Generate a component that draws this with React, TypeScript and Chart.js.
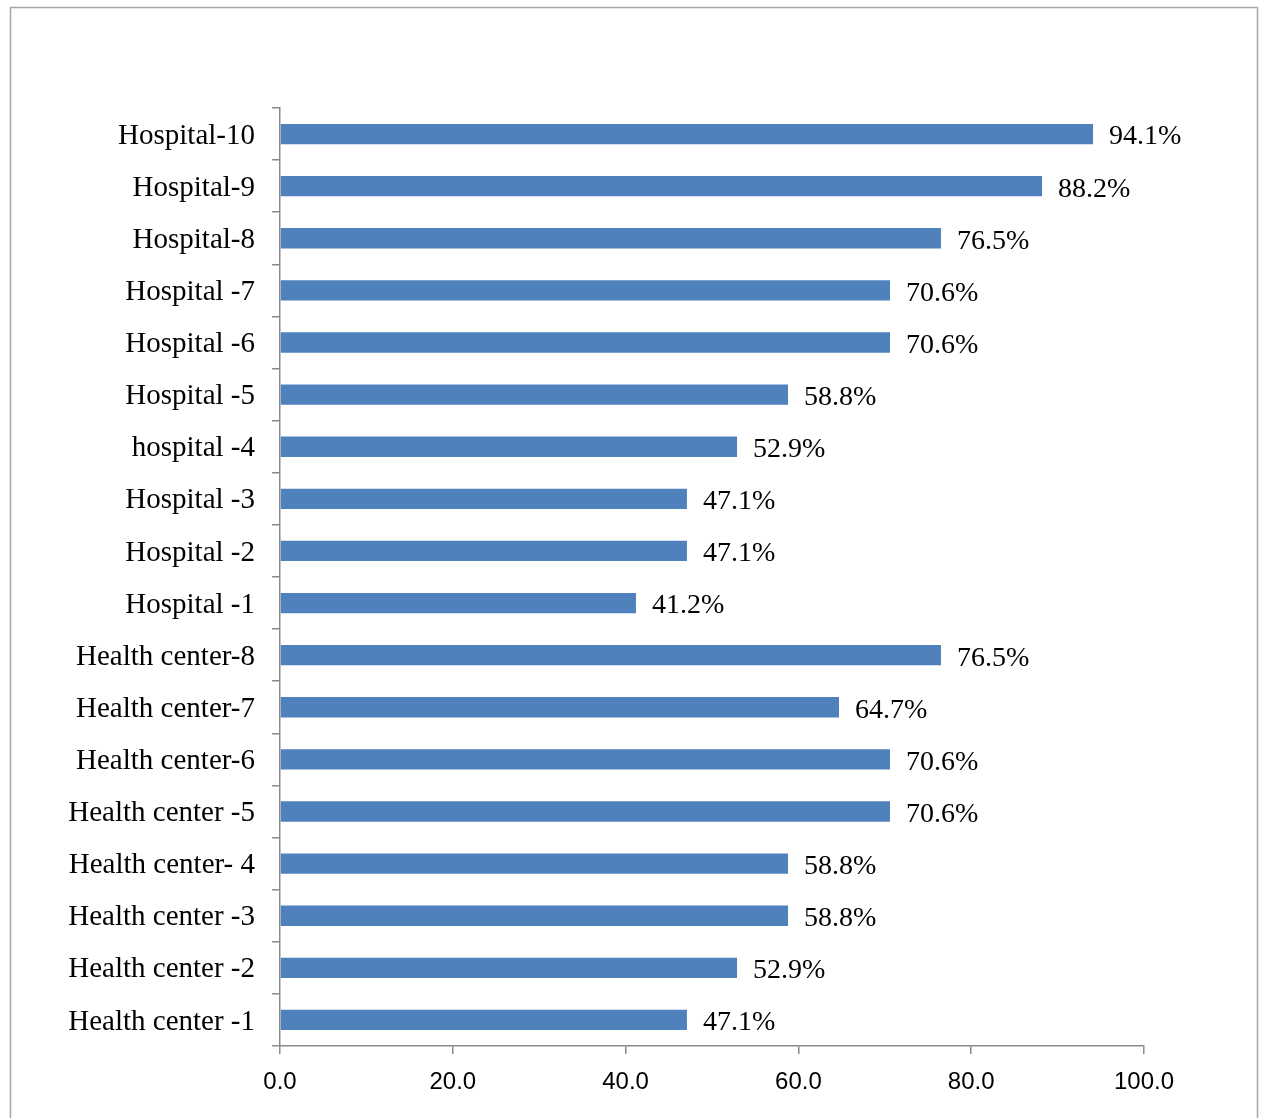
import React, { useEffect, useRef } from "react";
import { Chart, registerables } from "chart.js";

Chart.register(...registerables);

const facilities = [
  "Hospital-10",
  "Hospital-9",
  "Hospital-8",
  "Hospital -7",
  "Hospital -6",
  "Hospital -5",
  "hospital -4",
  "Hospital -3",
  "Hospital -2",
  "Hospital -1",
  "Health center-8",
  "Health center-7",
  "Health center-6",
  "Health center -5",
  "Health center- 4",
  "Health center -3",
  "Health center -2",
  "Health center -1",
];

const percentages = [
  94.1, 88.2, 76.5, 70.6, 70.6, 58.8, 52.9, 47.1, 47.1, 41.2, 76.5, 64.7, 70.6,
  70.6, 58.8, 58.8, 52.9, 47.1,
];

const xTickValues = [0, 20, 40, 60, 80, 100];

const SERIF = "'Liberation Serif', 'Times New Roman', serif";
const SANS = "'Liberation Sans', Arial, sans-serif";
const AXIS_GREY = "#8a8a8a";

// Outer frame around the whole chart
const framePlugin = {
  id: "frame",
  beforeDraw(chart: Chart) {
    const ctx = chart.ctx;
    ctx.save();
    ctx.fillStyle = "#ffffff";
    ctx.fillRect(0, 0, chart.width, chart.height);
    ctx.strokeStyle = "#a6a6a6";
    ctx.lineWidth = 1.5;
    ctx.strokeRect(10.5, 7.5, chart.width - 14, chart.height + 20);
    ctx.restore();
  },
};

// Percentage labels to the right of each bar
const valueLabelPlugin = {
  id: "valueLabels",
  afterDatasetsDraw(chart: Chart) {
    const ctx = chart.ctx;
    const meta = chart.getDatasetMeta(0);
    ctx.save();
    ctx.font = `28px ${SERIF}`;
    ctx.fillStyle = "#000000";
    ctx.textAlign = "left";
    ctx.textBaseline = "middle";
    meta.data.forEach((bar: any, i: number) => {
      const v = percentages[i];
      ctx.fillText(`${v.toFixed(1)}%`, bar.x + 16, bar.y + 3);
    });
    ctx.restore();
  },
};

export default function App() {
  const canvasRef = useRef<HTMLCanvasElement | null>(null);

  useEffect(() => {
    document.body.style.margin = "0";
    const canvas = canvasRef.current;
    if (!canvas) return;
    const chart = new Chart(canvas, {
      type: "bar",
      data: {
        labels: facilities,
        datasets: [
          {
            data: percentages,
            backgroundColor: "#4F81BD",
            borderWidth: 0,
            categoryPercentage: 1,
            barPercentage: 0.39,
          },
        ],
      },
      options: {
        indexAxis: "y",
        animation: false,
        responsive: false,
        maintainAspectRatio: false,
        layout: { padding: { top: 108, right: 117, left: 0, bottom: 0 } },
        plugins: {
          legend: { display: false },
          tooltip: { enabled: false },
        },
        scales: {
          x: {
            min: 0,
            max: 100,
            afterFit(scale: any) {
              scale.height = 72;
            },
            afterBuildTicks(scale: any) {
              scale.ticks = xTickValues.map((v) => ({ value: v }));
            },
            ticks: {
              color: "#000000",
              font: { family: SANS, size: 24 },
              padding: 14,
              callback: (v: any) => Number(v).toFixed(1),
            },
            grid: {
              drawOnChartArea: false,
              drawTicks: true,
              tickLength: 8,
              color: AXIS_GREY,
              lineWidth: 1.5,
            },
            border: { color: AXIS_GREY, width: 1.5 },
          },
          y: {
            afterFit(scale: any) {
              scale.width = 280;
            },
            ticks: {
              color: "#000000",
              font: { family: SERIF, size: 29 },
              padding: 17,
              labelOffset: 2,
              autoSkip: false,
            },
            grid: {
              offset: true,
              drawOnChartArea: false,
              drawTicks: true,
              tickLength: 8,
              color: AXIS_GREY,
              lineWidth: 1.5,
            },
            border: { color: AXIS_GREY, width: 1.5 },
          },
        },
      },
      plugins: [framePlugin, valueLabelPlugin],
    });
    return () => chart.destroy();
  }, []);

  return (
    <div style={{ width: 1261, height: 1118 }}>
      <canvas ref={canvasRef} width={1261} height={1118} style={{ display: "block" }} />
    </div>
  );
}
